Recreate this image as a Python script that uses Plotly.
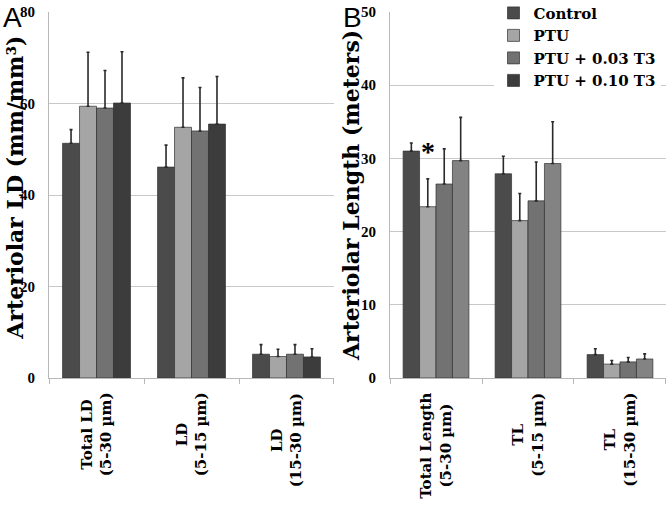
import plotly.graph_objects as go

# ---------------- data ----------------
series_names = ["Control", "PTU", "PTU + 0.03 T3", "PTU + 0.10 T3"]
legend_colors = ["#4b4b4b", "#a5a5a5", "#727272", "#3c3c3c"]
colors_b = ["#4b4b4b", "#a5a5a5", "#727272", "#838383"]

cats_a = ["Total LD<br>(5-30 µm)", "LD<br>(5-15 µm)", "LD<br>(15-30 µm)"]
cats_b = ["Total Length<br>(5-30 µm)", "TL<br>(5-15 µm)", "TL<br>(15-30 µm)"]

# Panel A: Arteriolar LD (mm/mm3)
a_control = [51.3, 46.1, 5.2]
a_ptu = [59.4, 54.8, 4.7]
a_ptu003 = [59.0, 54.0, 5.2]
a_ptu010 = [60.1, 55.5, 4.6]
a_control_err = [3.0, 4.8, 2.1]
a_ptu_err = [11.8, 10.8, 1.6]
a_ptu003_err = [8.2, 9.5, 2.1]
a_ptu010_err = [11.2, 10.4, 1.8]

# Panel B: Arteriolar Length (meters)
b_control = [31.0, 27.9, 3.2]
b_ptu = [23.4, 21.5, 1.9]
b_ptu003 = [26.5, 24.2, 2.2]
b_ptu010 = [29.7, 29.3, 2.6]
b_control_err = [1.1, 2.4, 0.8]
b_ptu_err = [3.8, 3.7, 0.5]
b_ptu003_err = [4.8, 5.3, 0.6]
b_ptu010_err = [5.9, 5.7, 0.7]

yticks_a = [0, 20, 40, 60, 80]
yticks_b = [0, 10, 20, 30, 40, 50]

vals_a = [a_control, a_ptu, a_ptu003, a_ptu010]
errs_a = [a_control_err, a_ptu_err, a_ptu003_err, a_ptu010_err]
vals_b = [b_control, b_ptu, b_ptu003, b_ptu010]
errs_b = [b_control_err, b_ptu_err, b_ptu003_err, b_ptu010_err]

SERIF = "Liberation Serif"
WIDE = "DejaVu Serif"

fig = go.Figure()

for i, name in enumerate(series_names):
    fig.add_trace(go.Bar(
        x=cats_a, y=vals_a[i], name=name, legendgroup=name,
        marker=dict(color=legend_colors[i], line=dict(color="rgba(50,50,50,0.7)", width=1)),
        error_y=dict(type="data", array=errs_a[i], arrayminus=[0] * len(errs_a[i]),
                     symmetric=False, color="#2a2a2a", thickness=1.6, width=1.5),
        xaxis="x", yaxis="y", showlegend=True,
    ))

for i, name in enumerate(series_names):
    fig.add_trace(go.Bar(
        x=cats_b, y=vals_b[i], name=name, legendgroup=name,
        marker=dict(color=colors_b[i], line=dict(color="rgba(50,50,50,0.7)", width=1)),
        error_y=dict(type="data", array=errs_b[i], arrayminus=[0] * len(errs_b[i]),
                     symmetric=False, color="#2a2a2a", thickness=1.6, width=1.5),
        xaxis="x2", yaxis="y2", showlegend=False,
    ))

W, H = 666, 509
axis_common = dict(showline=True, linecolor="#b8b8b8", linewidth=1)

fig.update_layout(
    width=W, height=H,
    margin=dict(l=0, r=0, t=12, b=131, autoexpand=False),
    paper_bgcolor="white", plot_bgcolor="white",
    barmode="group", bargap=0.285, bargroupgap=0,
    showlegend=True,
    legend=dict(x=0.741, y=1.042, xanchor="left", yanchor="top",
                bgcolor="white", font=dict(family=WIDE, size=15, color="black", weight="bold"),
                tracegroupgap=0, itemwidth=30, traceorder="normal"),
    xaxis=dict(domain=[0.0736, 0.5015], anchor="y", type="category",
               showticklabels=False, ticks="outside", tickson="boundaries",
               ticklen=5, tickcolor="#b8b8b8", **axis_common),
    yaxis=dict(domain=[0, 1], anchor="x", range=[0, 80], tickvals=yticks_a,
               showgrid=True, gridcolor="#c8c8c8", gridwidth=1, zeroline=False,
               ticks="", ticklabelstandoff=10,
               tickfont=dict(family=SERIF, size=15, color="black", weight="bold"),
               **axis_common),
    xaxis2=dict(domain=[0.5856, 1.0], anchor="y2", type="category",
                showticklabels=False, ticks="outside", tickson="boundaries",
                ticklen=5, tickcolor="#b8b8b8", **axis_common),
    yaxis2=dict(domain=[0, 1], anchor="x2", range=[0, 50], tickvals=yticks_b,
                showgrid=True, gridcolor="#c8c8c8", gridwidth=1, zeroline=False,
                ticks="", ticklabelstandoff=10,
                tickfont=dict(family=SERIF, size=15, color="black", weight="bold"),
                **axis_common),
)

annotations = []
# category labels (rotated)
for c in cats_a:
    annotations.append(dict(x=c, xref="x", y=-0.035, yref="paper", text=c, textangle=-90,
                            showarrow=False, xanchor="center", yanchor="top", align="center",
                            font=dict(family=WIDE, size=15, color="black", weight="bold")))
for c in cats_b:
    annotations.append(dict(x=c, xref="x2", y=-0.035, yref="paper", text=c, textangle=-90,
                            showarrow=False, xanchor="center", yanchor="top", align="center",
                            font=dict(family=WIDE, size=15, color="black", weight="bold")))
# axis titles
annotations.append(dict(x=15 / W, xref="paper", y=0.52, yref="paper",
                        text="Arteriolar LD (mm/mm³)", textangle=-90, showarrow=False,
                        xanchor="center", yanchor="middle",
                        font=dict(family=WIDE, size=22, color="black", weight="bold")))
annotations.append(dict(x=351 / W, xref="paper", y=0.50, yref="paper",
                        text="Arteriolar Length (meters)", textangle=-90, showarrow=False,
                        xanchor="center", yanchor="middle",
                        font=dict(family=WIDE, size=22, color="black", weight="bold")))
# panel letters
annotations.append(dict(x=12 / W, xref="paper", y=1.033, yref="paper", text="A",
                        showarrow=False, xanchor="center", yanchor="top",
                        font=dict(family="Liberation Sans", size=28, color="black")))
annotations.append(dict(x=352 / W, xref="paper", y=1.033, yref="paper", text="B",
                        showarrow=False, xanchor="center", yanchor="top",
                        font=dict(family="Liberation Sans", size=28, color="black")))
# significance marker over PTU bar in first group of panel B
annotations.append(dict(x=-0.09, xref="x2", y=31.0, yref="y2", text="*",
                        showarrow=False, xanchor="center", yanchor="middle",
                        font=dict(family=SERIF, size=28, color="black", weight="bold")))

fig.update_layout(annotations=annotations)

fig.write_html("out.html", config={"displayModeBar": False},
               post_script="document.body.style.margin='0';document.body.style.overflow='hidden';")
